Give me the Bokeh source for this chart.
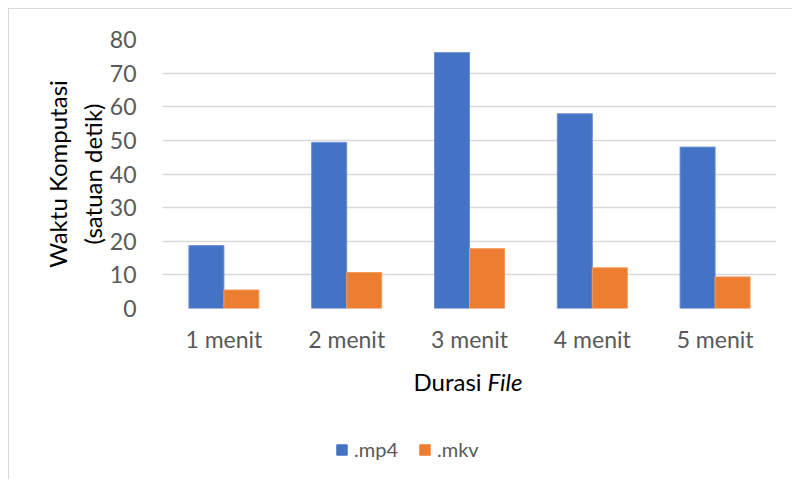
from bokeh.plotting import figure
from bokeh.layouts import column
from bokeh.models import (ColumnDataSource, FactorRange, Range1d, Legend, LegendItem, Label)
from bokeh.transform import dodge
from bokeh.embed import file_html
from bokeh.resources import INLINE

categories = ["1 menit", "2 menit", "3 menit", "4 menit", "5 menit"]
mp4 = [18.7, 49.4, 76.1, 57.9, 48.0]
mkv = [5.5, 10.7, 17.8, 12.1, 9.4]
series_names = [".mp4", ".mkv"]
y_ticks = [0, 10, 20, 30, 40, 50, 60, 70, 80]

FONT = "Lato"
BLUE = "#4472C4"
ORANGE = "#ED7D31"
TICK_COLOR = "#595959"
GRID = "#d9d9d9"
BORDER = "1px solid #d9d9d9"

src = ColumnDataSource(dict(cat=categories, mp4=mp4, mkv=mkv))

# ---- main chart ----
p = figure(width=784, height=351, x_range=FactorRange(*categories),
           y_range=Range1d(0, 80), output_backend="svg", toolbar_location=None,
           min_border_left=153, min_border_right=17, min_border_top=30,
           min_border_bottom=52)
p.margin = (8, 0, 0, 8)
p.styles = {"border-left": BORDER, "border-top": BORDER}
p.outline_line_color = None
p.background_fill_color = "white"
p.border_fill_color = "white"

p.vbar(x=dodge("cat", -0.1425, range=p.x_range), top="mp4", width=0.285,
       source=src, fill_color=BLUE, line_color="#6a8fd3", line_width=1)
p.vbar(x=dodge("cat", 0.1425, range=p.x_range), top="mkv", width=0.285,
       source=src, fill_color=ORANGE, line_color="#f19a5c", line_width=1)

p.xgrid.visible = False
p.ygrid.grid_line_color = GRID
p.ygrid.grid_line_width = 1.5
p.yaxis.ticker = y_ticks

for ax in (p.xaxis, p.yaxis):
    ax.axis_line_color = None
    ax.major_tick_line_color = None
    ax.minor_tick_line_color = None
    ax.major_label_text_font = FONT
    ax.major_label_text_font_size = "23px"
    ax.major_label_text_color = TICK_COLOR
p.xaxis.major_label_standoff = 10
p.yaxis.major_label_standoff = 20

p.yaxis.axis_label = "Waktu Komputasi\n(satuan detik)"
p.yaxis.axis_label_text_font = FONT
p.yaxis.axis_label_text_font_size = "24px"
p.yaxis.axis_label_text_font_style = "normal"
p.yaxis.axis_label_text_color = "#000000"
p.yaxis.axis_label_standoff = 0

# ---- bottom strip: x title + legend (frame aligned with the main chart) ----
q = figure(width=784, height=120, x_range=Range1d(0, 1), y_range=Range1d(0, 1),
           output_backend="svg", toolbar_location=None,
           min_border_left=0, min_border_right=0, min_border_top=0, min_border_bottom=0)
q.margin = (0, 0, 0, 8)
q.styles = {"border-left": BORDER}
q.axis.visible = False
q.grid.visible = False
q.outline_line_color = None
q.background_fill_color = "white"
q.border_fill_color = "white"

q.add_layout(Label(x=251, y=98, x_units="screen", y_units="screen", text="Durasi",
                   text_font=FONT, text_font_size="24px", text_color="#000000",
                   text_baseline="alphabetic"))
q.add_layout(Label(x=325, y=98, x_units="screen", y_units="screen", text="File",
                   text_font=FONT, text_font_size="24px", text_color="#000000",
                   text_font_style="italic", text_baseline="alphabetic"))

nan = float("nan")
k1 = q.vbar(x=[nan], top=[nan], width=0.1, fill_color=BLUE, line_color=BLUE)
k2 = q.vbar(x=[nan], top=[nan], width=0.1, fill_color=ORANGE, line_color=ORANGE)
legend = Legend(items=[LegendItem(label=series_names[0], renderers=[k1]),
                       LegendItem(label=series_names[1], renderers=[k2])],
                location=(173, 18), orientation="horizontal")
legend.border_line_color = None
legend.background_fill_alpha = 0
legend.padding = 0
legend.margin = 0
legend.spacing = 20
legend.glyph_width = 13
legend.glyph_height = 13
legend.label_standoff = 6
legend.label_text_font = FONT
legend.label_text_font_size = "20px"
legend.label_text_color = TICK_COLOR
q.add_layout(legend, "center")

layout = column(p, q, spacing=0)
open("out.html", "w").write(file_html(layout, INLINE))
